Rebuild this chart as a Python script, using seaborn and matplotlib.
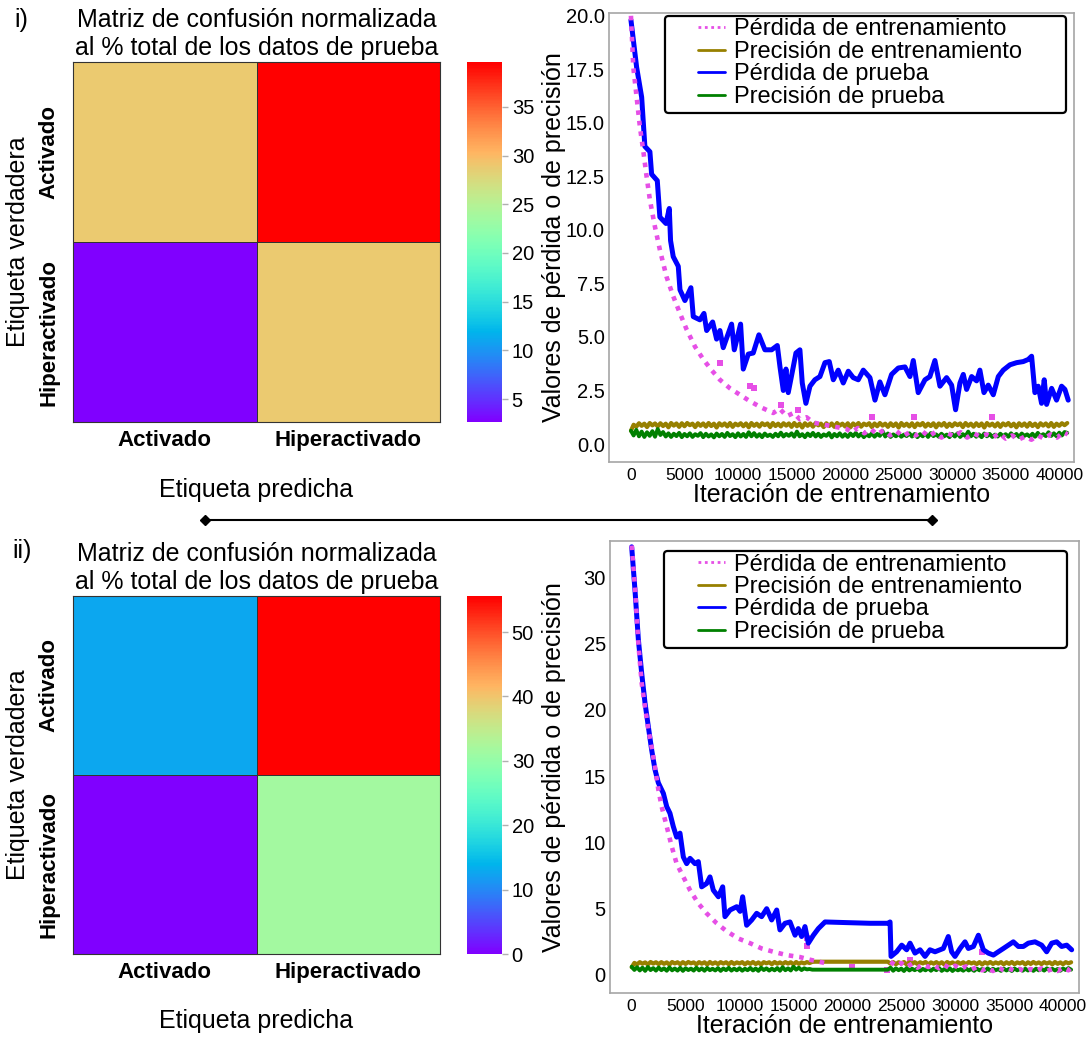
import numpy as np
import pandas as pd
import matplotlib
matplotlib.use("Agg")
import matplotlib.pyplot as plt
import seaborn as sns
from matplotlib.lines import Line2D
from matplotlib.patches import FancyBboxPatch
from matplotlib.ticker import MultipleLocator, FormatStrFormatter

sns.set_theme(style="white")
plt.rcParams["font.family"] = ["Liberation Sans", "DejaVu Sans"]
plt.rcParams.update({"text.color": "black", "axes.labelcolor": "black",
                     "xtick.color": "black", "ytick.color": "black"})

# ---------------------------------------------------------------- data
classes = ["Activado", "Hiperactivado"]

# confusion matrices, % of all test samples (rows: true, cols: predicted)
cm_i = [[28.88, 39.60],
        [2.64, 28.88]]
cm_ii = [[12.8, 55.6],
         [0.0, 31.6]]

series_labels = ["Pérdida de entrenamiento", "Precisión de entrenamiento",
                 "Pérdida de prueba", "Precisión de prueba"]

# accuracies are logged every 250 iterations
acc_it = list(range(0, 40751, 250))

# ---- run i)
i_test_loss_it = [0, 530, 1000, 1300, 1770, 1930, 2460, 2700, 3270, 3580, 3700, 3950,
                  4420, 4580, 5040, 5600, 5820, 6440, 6820, 7070, 7630, 8000, 8310, 8620,
                  9400, 9650, 10240, 10490, 10960, 11420, 11950, 12510, 13140, 13670, 13920,
                  14230, 14480, 14690, 15160, 15410, 15780, 16000, 16340, 16720, 17180, 17650,
                  18120, 18520, 18900, 19360, 19830, 20300, 20760, 21230, 21700, 22320, 22790,
                  23250, 23720, 24340, 24970, 25590, 26060, 26370, 26830, 27460, 27920, 28390,
                  28860, 29480, 29950, 30320, 30730, 31040, 31350, 31820, 32280, 32590, 32970,
                  33370, 33840, 34310, 34770, 35400, 36020, 36640, 37110, 37420, 37730, 38040,
                  38350, 38600, 38820, 39290, 39750, 40220, 40530, 40840]
i_test_loss = [19.8, 17.6, 16.2, 13.9, 13.65, 12.6, 12.3, 10.6, 10.3, 11.0, 9.5, 8.75,
               8.3, 7.2, 6.7, 7.3, 5.95, 5.8, 6.1, 5.3, 5.7, 4.9, 5.3, 4.5,
               5.6, 4.4, 5.6, 3.5, 4.2, 4.25, 5.1, 4.4, 4.4, 4.6, 3.6,
               2.5, 3.5, 2.4, 3.6, 4.25, 4.4, 2.85, 1.9, 2.7, 3.0, 3.15,
               3.8, 3.85, 3.0, 3.45, 2.85, 3.4, 3.1, 3.0, 3.45, 3.1, 2.05,
               2.9, 2.3, 3.25, 3.55, 3.6, 3.15, 3.9, 2.4, 3.0, 3.15, 3.9,
               2.7, 3.1, 2.75, 1.6, 2.85, 3.25, 2.55, 3.15, 2.95, 3.45, 2.4,
               2.75, 2.3, 3.15, 3.45, 3.7, 3.8, 3.85, 3.95, 4.1, 2.4, 2.7,
               1.9, 3.0, 1.85, 2.6, 2.05, 2.7, 2.55, 2.05]

i_train_loss_it = [0, 220, 530, 840, 1150, 1460, 1770, 2240, 2710, 3330, 3950, 4580, 5200,
                   5980, 6760, 7530, 8310, 9250, 10180, 11110, 12200, 13290, 13900, 14540,
                   15200, 15780, 16400, 17030, 18580, 20140, 20600, 21200, 21800, 22400, 23000,
                   23600, 24200, 24800, 25400, 26000, 26600, 27200, 27800, 28400, 29000, 29600,
                   30200, 30800, 31400, 32000, 32600, 33200, 33800, 34400, 35000, 35600, 36200,
                   36800, 37400, 38000, 38600, 39200, 39800, 40400, 40800]
i_train_loss = [20.0, 17.6, 16.2, 14.8, 13.7, 12.5, 11.4, 10.15, 9.05, 7.8, 6.9, 6.1, 5.35,
                4.55, 3.95, 3.45, 3.0, 2.6, 2.3, 2.0, 1.7, 1.45, 1.65, 1.3,
                1.45, 1.15, 1.25, 1.0, 0.85, 0.7, 0.55, 0.75, 0.5, 0.7, 0.45,
                0.65, 0.4, 0.6, 0.35, 0.55, 0.4, 0.6, 0.35, 0.55, 0.3, 0.5,
                0.35, 0.55, 0.3, 0.5, 0.35, 0.45, 0.3, 0.5, 0.25, 0.4, 0.2,
                0.35, 0.2, 0.4, 0.25, 0.45, 0.3, 0.55, 0.45]
i_train_loss_out_it = [8310, 11110, 11500, 14000, 15600, 22480, 26430, 33680]
i_train_loss_out = [3.8, 2.7, 2.6, 1.8, 1.6, 1.28, 1.28, 1.28]

i_train_acc = [0.62, 0.90, 0.81, 0.97, 0.85, 0.95, 0.79, 0.98, 0.87, 0.96, 0.82, 0.97, 0.84, 0.95, 0.78, 0.98, 0.86, 0.96, 0.80, 0.97,
               0.83, 0.98, 0.88, 0.95, 0.79, 0.97, 0.85, 0.96, 0.81, 0.98, 0.84, 0.95, 0.77, 0.97, 0.86, 0.96, 0.82, 0.98, 0.80, 0.95,
               0.87, 0.97, 0.83, 0.96, 0.78, 0.98, 0.85, 0.95, 0.81, 0.97, 0.88, 0.96, 0.79, 0.98, 0.84, 0.95, 0.82, 0.97, 0.86, 0.96,
               0.80, 0.98, 0.83, 0.95, 0.77, 0.97, 0.85, 0.96, 0.81, 0.98, 0.87, 0.95, 0.79, 0.97, 0.84, 0.96, 0.80, 0.98, 0.86, 0.95,
               0.82, 0.97, 0.78, 0.96, 0.85, 0.98, 0.81, 0.95, 0.88, 0.97, 0.79, 0.96, 0.83, 0.98, 0.86, 0.95, 0.80, 0.97, 0.84, 0.96,
               0.77, 0.98, 0.85, 0.95, 0.82, 0.97, 0.79, 0.96, 0.87, 0.98, 0.81, 0.95, 0.84, 0.97, 0.78, 0.96, 0.86, 0.98, 0.80, 0.95,
               0.83, 0.97, 0.88, 0.96, 0.79, 0.98, 0.85, 0.95, 0.81, 0.97, 0.84, 0.96, 0.77, 0.98, 0.86, 0.95, 0.82, 0.97, 0.80, 0.96,
               0.87, 0.98, 0.83, 0.95, 0.78, 0.97, 0.85, 0.96, 0.81, 0.98, 0.84, 0.95, 0.79, 0.97, 0.86, 0.96, 0.82, 0.98, 0.80, 0.95,
               0.85, 0.97, 0.88, 0.98]
i_test_acc = [0.62, 0.40, 0.66, 0.36, 0.58, 0.33, 0.55, 0.38, 0.60, 0.34, 0.70, 0.42, 0.56, 0.35, 0.50, 0.33, 0.48, 0.37, 0.52, 0.32,
              0.47, 0.36, 0.50, 0.33, 0.46, 0.38, 0.51, 0.32, 0.48, 0.35, 0.45, 0.31, 0.49, 0.36, 0.47, 0.33, 0.52, 0.37, 0.46, 0.32,
              0.50, 0.35, 0.47, 0.33, 0.55, 0.36, 0.51, 0.34, 0.46, 0.32, 0.49, 0.37, 0.44, 0.33, 0.48, 0.36, 0.53, 0.35, 0.47, 0.38,
              0.50, 0.34, 0.58, 0.36, 0.46, 0.32, 0.49, 0.37, 0.52, 0.35, 0.48, 0.33, 0.45, 0.38, 0.51, 0.31, 0.47, 0.36, 0.50, 0.34,
              0.46, 0.33, 0.49, 0.37, 0.52, 0.35, 0.48, 0.32, 0.45, 0.36, 0.50, 0.34, 0.47, 0.38, 0.60, 0.35, 0.49, 0.33, 0.45, 0.36,
              0.48, 0.34, 0.44, 0.37, 0.50, 0.35, 0.47, 0.32, 0.46, 0.36, 0.49, 0.33, 0.51, 0.37, 0.45, 0.34, 0.48, 0.36, 0.44, 0.32,
              0.47, 0.35, 0.50, 0.33, 0.46, 0.37, 0.58, 0.36, 0.48, 0.34, 0.45, 0.32, 0.49, 0.36, 0.47, 0.33, 0.44, 0.35, 0.48, 0.37,
              0.46, 0.34, 0.50, 0.36, 0.47, 0.33, 0.49, 0.38, 0.45, 0.35, 0.48, 0.34, 0.52, 0.36, 0.46, 0.37, 0.55, 0.38, 0.50, 0.36,
              0.53, 0.40, 0.56, 0.52]

# ---- run ii)
ii_test_loss_it = [0, 310, 620, 930, 1240, 1550, 1850, 2160, 2470, 2940, 3250, 3550, 3860,
                   4170, 4480, 4790, 5100, 5410, 5870, 6180, 6490, 6950, 7260, 7570, 8040,
                   8440, 8650, 9120, 9740, 10050, 10290, 10660, 11130, 11590, 12050, 12520,
                   12980, 13450, 13750, 14220, 14680, 15150, 15450, 15760, 16070, 16380, 16850,
                   17310, 17930, 19940, 22100, 23800, 23960, 24050, 24570, 25040, 25500, 25810,
                   26270, 26740, 27200, 27660, 28130, 28590, 28900, 29360, 29670, 29980, 30450,
                   30910, 31220, 31690, 32150, 32610, 33070, 33540, 34000, 34470, 34930, 35390,
                   35860, 36320, 36780, 37400, 38020, 38480, 38950, 39410, 39870, 40340, 40800]
ii_test_loss = [32.3, 29.0, 25.3, 22.75, 20.5, 18.7, 17.0, 15.5, 14.5, 13.7, 12.7, 12.2, 11.2,
                10.4, 10.7, 8.9, 8.4, 8.8, 8.4, 8.55, 6.65, 6.9, 7.4, 6.4, 5.9,
                6.65, 4.4, 4.9, 5.15, 4.8, 5.9, 3.75, 4.15, 4.65, 4.4, 5.0,
                4.15, 4.9, 3.4, 3.9, 4.0, 3.0, 3.5, 2.9, 3.65, 2.4, 3.0,
                3.5, 4.0, 3.95, 3.9, 3.9, 4.0, 1.4, 1.75, 2.25, 1.9, 2.4,
                1.65, 1.9, 1.4, 1.9, 1.75, 1.9, 2.0, 2.9, 1.75, 1.4, 2.0,
                2.5, 2.0, 2.15, 3.0, 1.9, 1.65, 1.5, 1.75, 2.0, 2.25, 2.5,
                2.15, 2.15, 2.4, 2.5, 2.25, 1.75, 2.4, 2.5, 2.15, 2.25, 1.9]

# training loss was logged in two stretches
ii_train_loss_seg = [0] * 27 + [1] * 35
ii_train_loss_it = [0, 310, 620, 930, 1240, 1550, 1850, 2160, 2470, 2780, 3250, 3710, 4170,
                    4790, 5410, 6180, 6950, 7880, 8810, 9890, 10970, 12050, 13140, 14370,
                    15610, 16540, 17930,
                    24000, 24500, 25000, 25500, 26000, 26500, 27000, 27500, 28000, 28500,
                    29000, 29500, 30000, 30500, 31000, 31500, 32000, 32500, 33000, 33500,
                    34000, 34500, 35000, 35500, 36000, 36500, 37000, 37500, 38000, 38500,
                    39000, 39500, 40000, 40500, 40800]
ii_train_loss = [32.4, 29.2, 25.0, 22.0, 20.2, 18.5, 17.2, 15.7, 14.0, 12.7, 11.2, 9.7, 8.4,
                 7.4, 6.4, 5.4, 4.65, 3.9, 3.3, 2.75, 2.4, 2.0, 1.75, 1.5,
                 1.35, 1.15, 0.9,
                 1.0, 0.7, 0.9, 0.6, 0.85, 0.55, 0.8, 0.6, 0.75, 0.5,
                 0.75, 0.5, 0.7, 0.45, 0.65, 0.4, 0.6, 0.35, 0.55, 0.3,
                 0.55, 0.35, 0.5, 0.3, 0.45, 0.25, 0.45, 0.3, 0.5, 0.3,
                 0.45, 0.3, 0.55, 0.35, 0.6]
ii_train_loss_out_it = [16230, 16300, 20450, 23700, 25800, 32450]
ii_train_loss_out = [2.8, 2.2, 0.6, 0.4, 1.1, 1.76]

ii_train_acc = [0.58, 0.91, 0.80, 0.97, 0.85, 0.95, 0.79, 0.98, 0.86, 0.96, 0.82, 0.97, 0.84, 0.95, 0.78, 0.98, 0.87, 0.96, 0.81, 0.97,
                0.83, 0.98, 0.88, 0.95, 0.80, 0.97, 0.85, 0.96, 0.79, 0.98, 0.84, 0.95, 0.82, 0.97, 0.86, 0.96, 0.81, 0.98, 0.83, 0.95,
                0.87, 0.97, 0.80, 0.96, 0.84, 0.98, 0.82, 0.95, 0.79, 0.97, 0.88, 0.96, 0.81, 0.98, 0.85, 0.95, 0.83, 0.97, 0.86, 0.96,
                0.80, 0.98, 0.84, 0.95, 0.87, 0.97, 0.90, 0.99,
                1.0, 1.0, 1.0, 1.0, 1.0, 1.0, 1.0, 1.0, 1.0, 1.0, 1.0, 1.0, 1.0, 1.0,
                1.0, 1.0, 1.0, 1.0, 1.0, 1.0, 1.0, 1.0, 1.0, 1.0, 1.0, 1.0, 1.0, 1.0,
                0.85, 0.97, 0.81, 0.96, 0.86, 0.98, 0.79, 0.95, 0.84, 0.97, 0.82, 0.96, 0.87, 0.98, 0.80, 0.95, 0.85, 0.97, 0.83, 0.96,
                0.78, 0.98, 0.86, 0.95, 0.81, 0.97, 0.84, 0.96, 0.80, 0.98, 0.87, 0.95, 0.82, 0.97, 0.79, 0.96, 0.85, 0.98, 0.83, 0.95,
                0.86, 0.97, 0.80, 0.96, 0.84, 0.98, 0.81, 0.95, 0.87, 0.97, 0.79, 0.96, 0.83, 0.98, 0.85, 0.95, 0.82, 0.97, 0.86, 0.96,
                0.80, 0.98, 0.84, 0.95, 0.81, 0.97, 0.88, 0.96]
ii_test_acc = [0.62, 0.38, 0.58, 0.34, 0.55, 0.31, 0.60, 0.37, 0.52, 0.33, 0.56, 0.36, 0.50, 0.32, 0.57, 0.35, 0.49, 0.33, 0.54, 0.31,
               0.51, 0.37, 0.48, 0.33, 0.55, 0.35, 0.50, 0.32, 0.53, 0.36, 0.47, 0.34, 0.52, 0.31, 0.49, 0.36, 0.54, 0.33, 0.48, 0.35,
               0.51, 0.32, 0.47, 0.36, 0.53, 0.34, 0.49, 0.31, 0.55, 0.37, 0.50, 0.33, 0.48, 0.35, 0.52, 0.32, 0.58, 0.36, 0.50, 0.34,
               0.62, 0.40, 0.55, 0.37, 0.50, 0.42, 0.45, 0.40,
               0.40, 0.40, 0.40, 0.40, 0.40, 0.40, 0.40, 0.40, 0.40, 0.40, 0.40, 0.40, 0.40, 0.40,
               0.40, 0.40, 0.40, 0.40, 0.40, 0.40, 0.40, 0.40, 0.40, 0.40, 0.40, 0.40, 0.40, 0.40,
               0.55, 0.32, 0.50, 0.36, 0.48, 0.30, 0.52, 0.34, 0.47, 0.36, 0.50, 0.31, 0.46, 0.35, 0.51, 0.32, 0.48, 0.36, 0.53, 0.31,
               0.45, 0.34, 0.50, 0.30, 0.47, 0.35, 0.44, 0.32, 0.49, 0.34, 0.46, 0.31, 0.48, 0.35, 0.45, 0.30, 0.50, 0.33, 0.47, 0.36,
               0.44, 0.31, 0.48, 0.34, 0.46, 0.30, 0.49, 0.35, 0.45, 0.32, 0.47, 0.34, 0.44, 0.31, 0.48, 0.35, 0.46, 0.33, 0.50, 0.36,
               0.47, 0.34, 0.45, 0.32, 0.49, 0.37, 0.52, 0.40]

# ---------------------------------------------------------------- styling
PINK = "#e64fe6"
OLIVE = "#978000"
BLUE = "#0000ff"
GREEN = "#008000"
DOTS = (0, (1, 1.3))
SPINE = "#a6a6a6"

W, H = 1089, 1039
fig = plt.figure(figsize=(W / 100, H / 100), dpi=100)
fig.patch.set_facecolor("white")


def fig_rect(x0, y0, x1, y1):
    """Pixel box (top-left origin) -> figure fraction rect."""
    return [x0 / W, 1 - y1 / H, (x1 - x0) / W, (y1 - y0) / H]


def draw_matrix(ax, cax, values):
    df = pd.DataFrame(values, index=classes, columns=classes)
    sns.heatmap(df, ax=ax, cbar_ax=cax, cmap="rainbow", linewidths=0.6,
                linecolor="#333333")
    ax.set_title("Matriz de confusión normalizada\nal % total de los datos de prueba",
                 fontsize=18, pad=5, linespacing=1.23)
    ax.tick_params(axis="both", length=0)
    ax.tick_params(axis="x", pad=6)
    ax.tick_params(axis="y", pad=10)
    ax.set_xticklabels(classes, fontsize=16, fontweight="bold", rotation=0)
    ax.set_yticklabels(classes, fontsize=16, fontweight="bold", rotation=90, va="center")
    for s in ax.spines.values():
        s.set_visible(True)
        s.set_color("#333333")
        s.set_linewidth(0.8)
    ax.set_xlabel("Etiqueta predicha", fontsize=18)
    ax.set_ylabel("Etiqueta verdadera", fontsize=18)
    ax.xaxis.set_label_coords(0.5, -0.155)
    ax.yaxis.set_label_coords(-0.117, 0.5)
    cax.tick_params(labelsize=14.5, right=True, length=4, width=1, color="#b0b0b0", pad=3)


def draw_curves(ax, train_loss_it, train_loss, train_seg, out_it, out_v,
                train_acc, test_loss_it, test_loss, test_acc, xlim, ylim, ystep):
    sns.lineplot(x=test_loss_it, y=test_loss, ax=ax, color=BLUE, linewidth=3.6,
                 sort=False, legend=False)
    sns.lineplot(x=acc_it, y=train_acc, ax=ax, color=OLIVE, linewidth=3.0,
                 sort=False, legend=False)
    sns.lineplot(x=acc_it, y=test_acc, ax=ax, color=GREEN, linewidth=2.8,
                 sort=False, legend=False)
    sns.lineplot(x=train_loss_it, y=train_loss, units=train_seg, estimator=None,
                 ax=ax, color=PINK, linewidth=3.3, linestyle=DOTS, sort=False,
                 legend=False)
    sns.scatterplot(x=out_it, y=out_v, ax=ax, color=PINK, marker="s", s=16,
                    linewidth=0, legend=False)
    ax.set_xlim(*xlim)
    ax.set_ylim(*ylim)
    ax.xaxis.set_major_locator(MultipleLocator(5000))
    ax.yaxis.set_major_locator(MultipleLocator(ystep))
    ax.tick_params(axis="x", labelsize=12.5, pad=4, length=0)
    ax.tick_params(axis="y", labelsize=14.5, pad=3, length=0)
    for s in ax.spines.values():
        s.set_color(SPINE)
        s.set_linewidth(1.2)
    ax.set_xlabel("Iteración de entrenamiento", fontsize=18)
    ax.set_ylabel("Valores de pérdida o de precisión", fontsize=18)


def draw_legend(ax, anchor, box):
    handles = [Line2D([], [], color=PINK, lw=2, linestyle=DOTS),
               Line2D([], [], color=OLIVE, lw=2),
               Line2D([], [], color=BLUE, lw=2),
               Line2D([], [], color=GREEN, lw=2)]
    leg = ax.legend(handles, series_labels, loc="upper left", bbox_to_anchor=anchor,
                    frameon=False, fontsize=17, handlelength=1.15, handletextpad=0.38,
                    borderpad=0, borderaxespad=0, labelspacing=0.02)
    leg.set_zorder(7)
    x0, y0, x1, y1 = box
    frame = FancyBboxPatch((x0, y0), x1 - x0, y1 - y0,
                           boxstyle="round,pad=0,rounding_size=0.008",
                           transform=ax.transAxes, facecolor="white",
                           edgecolor="black", linewidth=1.6, zorder=6, clip_on=False)
    ax.add_artist(frame)


# ---- panel i)
ax_cm1 = fig.add_axes(fig_rect(73, 62, 440, 422))
cax1 = fig.add_axes(fig_rect(467, 62, 502, 422))
draw_matrix(ax_cm1, cax1, cm_i)
ax_l1 = fig.add_axes(fig_rect(609, 13, 1074, 462))
draw_curves(ax_l1, i_train_loss_it, i_train_loss, [0] * len(i_train_loss_it),
            i_train_loss_out_it, i_train_loss_out, i_train_acc,
            i_test_loss_it, i_test_loss, i_test_acc,
            (-2050, 41380), (-0.84, 20.13), 2.5)
ax_l1.yaxis.set_major_formatter(FormatStrFormatter("%.1f"))
ax_l1.yaxis.set_label_coords(-0.0925, 0.5)
ax_l1.xaxis.set_label_coords(0.5, -0.046)
draw_legend(ax_l1, (0.1914, 0.9878), (0.1204, 0.7773, 0.9828, 0.9933))

# ---- panel ii)
ax_cm2 = fig.add_axes(fig_rect(73, 596, 440, 954))
cax2 = fig.add_axes(fig_rect(467, 596, 502, 954))
draw_matrix(ax_cm2, cax2, cm_ii)
ax_l2 = fig.add_axes(fig_rect(610, 541, 1079, 993))
draw_curves(ax_l2, ii_train_loss_it, ii_train_loss, ii_train_loss_seg,
            ii_train_loss_out_it, ii_train_loss_out, ii_train_acc,
            ii_test_loss_it, ii_test_loss, ii_test_acc,
            (-2010, 41480), (-1.36, 32.74), 5)
ax_l2.yaxis.set_label_coords(-0.0935, 0.5)
ax_l2.xaxis.set_label_coords(0.5, -0.047)
draw_legend(ax_l2, (0.1876, 0.9723), (0.1151, 0.7633, 0.9744, 0.9779))

# panel tags and separator
fig.text(14 / W, 1 - 19.5 / H, "i)", fontsize=18, va="center", ha="left")
fig.text(12 / W, 1 - 551 / H, "ii)", fontsize=18, va="center", ha="left")
fig.add_artist(Line2D([205 / W, 932 / W], [1 - 520 / H, 1 - 520 / H],
                      transform=fig.transFigure, color="black", lw=1.5,
                      marker="D", markersize=5, markevery=[0, 1]))

fig.savefig("out.png", dpi=100, facecolor="white")
